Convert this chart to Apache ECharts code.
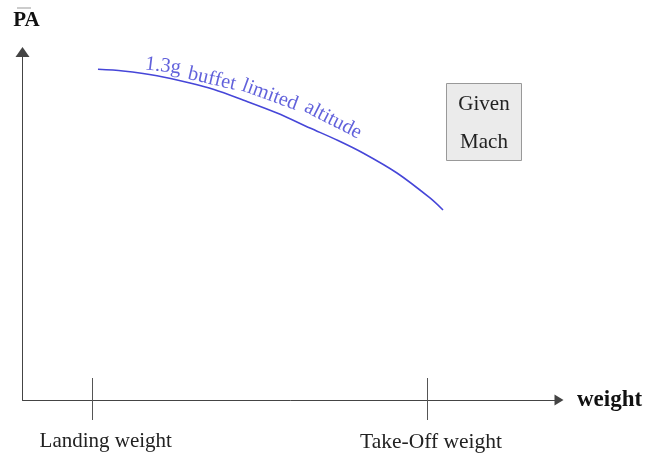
<!DOCTYPE html>
<html>
<head>
<meta charset="utf-8">
<script src="https://cdn.jsdelivr.net/npm/echarts@6/dist/echarts.min.js"></script>
<style>html,body{margin:0;padding:0;background:#fff}#c{width:647px;height:455px}</style>
</head>
<body>
<div id="c"></div>
<script>
// Data
const tickValues = [13, 75.4];
const tickLabels = ['Landing weight', 'Take-Off weight'];
const curveX = [14.07, 18.73, 25.07, 31.21, 35.69, 41.10, 47.44, 53.59, 58.81, 63.47, 69.80, 75.95, 78.38];
const curveY = [95.03, 94.54, 93.19, 91.09, 89.22, 86.21, 82.47, 78.16, 74.57, 70.98, 65.23, 58.05, 54.60];
const curveWords = ['1.3g', 'buffet', 'limited', 'altitude'];
const wordX = [26.19, 35.32, 46.13, 57.87];
const wordY = [95.98, 92.24, 87.64, 80.46];
const wordAngle = [-7, -13, -20, -27];
const boxText = ['Given', 'Mach'];

const serif = '"Liberation Serif", "DejaVu Serif", serif';
const chart = echarts.init(document.getElementById('c'));
const richKeys = ['a', 'b'];

chart.setOption({
  animation: false,
  backgroundColor: '#fff',
  grid: { left: 22.5, right: 88, top: 52, bottom: 55 },
  xAxis: [{
    type: 'value', min: 0, max: 100,
    name: 'weight', nameLocation: 'end', nameGap: 18,
    nameTextStyle: { fontFamily: serif, fontWeight: 'bold', fontSize: 23, color: '#111', verticalAlign: 'middle' },
    axisLine: { show: true, symbol: ['none', 'triangle'], symbolSize: [11, 9], lineStyle: { color: '#444', width: 1 } },
    axisTick: { show: true, customValues: tickValues, length: 20, lineStyle: { color: '#555', width: 1 } },
    axisLabel: { show: true, customValues: tickValues, margin: 31, fontFamily: serif, fontSize: 21, color: '#222',
      formatter: v => { const i = tickValues.indexOf(v); return i < 0 ? '' : '{' + richKeys[i] + '|' + tickLabels[i] + '}'; },
      rich: {
        a: { fontFamily: serif, fontSize: 21, color: '#222', padding: [0, 0, 0, 27] },
        b: { fontFamily: serif, fontSize: 21.5, color: '#222', padding: [0, 0, 0, 8] }
      } },
    splitLine: { show: false }
  }, {
    type: 'value', min: 0, max: 100, position: 'bottom',
    axisLine: { show: false },
    axisTick: { show: true, inside: true, customValues: tickValues, length: 22, lineStyle: { color: '#555', width: 1 } },
    axisLabel: { show: false },
    splitLine: { show: false }
  }],
  yAxis: {
    type: 'value', min: 0, max: 100,
    name: 'PA', nameLocation: 'end', nameGap: 21,
    nameTextStyle: { fontFamily: serif, fontWeight: 'bold', fontSize: 21, color: '#111', padding: [0, 0, 0, 8] },
    axisLine: { show: true, symbol: ['none', 'triangle'], symbolSize: [14, 10], lineStyle: { color: '#444', width: 1 } },
    axisTick: { show: false },
    axisLabel: { show: false },
    splitLine: { show: false }
  },
  series: [{
    type: 'line',
    smooth: 0.3,
    symbol: 'none',
    data: curveX.map((x, i) => [x, curveY[i]]),
    lineStyle: { color: '#4646d8', width: 1.6 }
  }, {
    type: 'scatter',
    symbolSize: 0,
    silent: true,
    data: curveWords.map((w, i) => ({
      value: [wordX[i], wordY[i]],
      label: { show: true, position: 'inside', formatter: w, rotate: wordAngle[i],
        fontFamily: serif, fontSize: 20.5, color: '#3a3ad2' }
    }))
  }],
  graphic: [
    { type: 'line', shape: { x1: 17, y1: 8, x2: 31, y2: 8 }, style: { stroke: '#999', lineWidth: 1 } },
    { type: 'rect', shape: { x: 446.5, y: 83.5, width: 75, height: 77 }, style: { fill: '#ebebeb', stroke: '#999', lineWidth: 1 } },
    { type: 'text', x: 484, y: 104, style: { text: boxText[0], font: '21px ' + serif, fill: '#222', textAlign: 'center', textVerticalAlign: 'middle' } },
    { type: 'text', x: 484, y: 142, style: { text: boxText[1], font: '21px ' + serif, fill: '#222', textAlign: 'center', textVerticalAlign: 'middle' } }
  ]
});
</script>
</body>
</html>
